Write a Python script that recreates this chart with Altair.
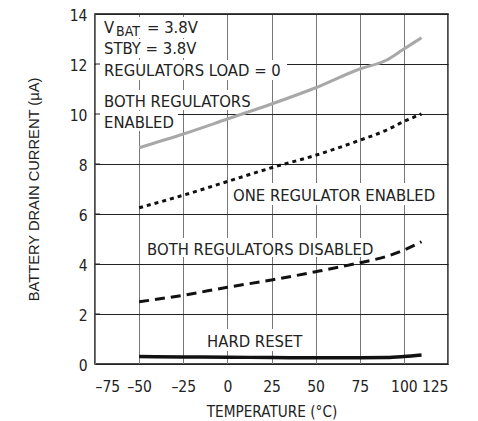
import altair as alt
import pandas as pd

# ---- data ----
temps = [-50, -25, 0, 25, 50, 75, 90, 100, 110]
both_enabled = [8.65, 9.2, 9.8, 10.4, 11.05, 11.8, 12.15, 12.6, 13.05]
one_enabled = [6.25, 6.75, 7.3, 7.85, 8.35, 8.95, 9.35, 9.7, 10.0]
both_disabled = [2.49, 2.75, 3.07, 3.36, 3.69, 4.05, 4.3, 4.56, 4.89]
hard_reset = [0.3, 0.28, 0.27, 0.26, 0.25, 0.25, 0.26, 0.3, 0.36]

x_ticks = [-75, -50, -25, 0, 25, 50, 75, 100, 125]
y_ticks = [0, 2, 4, 6, 8, 10, 12, 14]

# annotation labels: text, x (left), y (baseline)
label_text = ["V", "STBY = 3.8V", "REGULATORS LOAD = 0", "BOTH REGULATORS", "ENABLED",
              "ONE REGULATOR ENABLED", "BOTH REGULATORS DISABLED", "HARD RESET"]
label_x = [-69.9, -69.9, -69.9, -69.9, -69.9, 3.2, -45.5, -11.5]
label_y = [13.24, 12.4, 11.52, 10.28, 9.44, 6.52, 4.36, 0.68]

# white boxes behind the labels
box_x1 = [-74.4, -74.4, -74.4, -74.4, -74.4, 0.9, -47.8, -13.8]
box_x2 = [-18.3, -16.6, 33.8, 17.4, -28.0, 121.6, 87.6, 46.2]
box_y1 = [13.04, 12.24, 11.36, 10.16, 9.32, 6.36, 4.28, 0.52]
box_y2 = [13.88, 13.0, 12.16, 10.96, 10.12, 7.24, 5.04, 1.4]

FONT = "DejaVu Sans Condensed"
INK = "#222222"

df = pd.DataFrame({
    "temp": temps * 4,
    "current": both_enabled + one_enabled + both_disabled + hard_reset,
    "series": ["both_enabled"] * len(temps) + ["one_enabled"] * len(temps)
              + ["both_disabled"] * len(temps) + ["hard_reset"] * len(temps),
})
labels = pd.DataFrame({"text": label_text, "x": label_x, "y": label_y})
boxes = pd.DataFrame({"x1": box_x1, "x2": box_x2, "y1": box_y1, "y2": box_y2})
yt = pd.DataFrame({"y": y_ticks[1:-1]})

x_scale = alt.Scale(domain=[-75, 125], nice=False, zero=False)
y_scale = alt.Scale(domain=[0, 14], nice=False)

x_axis = alt.Axis(values=x_ticks, title="TEMPERATURE (°C)", grid=True, gridColor="#777777",
                  gridWidth=1, gridOpacity=1, ticks=False, domain=False,
                  labelFont=FONT, labelFontSize=15.5, labelColor=INK,
                  labelExpr="replace(datum.label, '−', '–')",
                  labelBaseline="alphabetic", labelPadding=27, labelOverlap=False,
                  titleFont=FONT, titleFontSize=15.2, titleFontWeight="normal",
                  titleColor=INK, titleBaseline="alphabetic", titleY=52)
y_axis = alt.Axis(values=y_ticks, title="BATTERY DRAIN CURRENT (µA)", grid=True,
                  gridColor=INK, gridWidth=1, gridOpacity=1, ticks=False, domain=False,
                  labelFont=FONT, labelFontSize=15.5, labelColor=INK, labelPadding=8,
                  labelOverlap=False, labelBaseline="alphabetic", labelOffset=6,
                  titleFont="Liberation Sans", titleFontSize=14.7, titleFontWeight="normal",
                  titleColor=INK, titleBaseline="alphabetic", titleX=-57)


def X(field):
    return alt.X(field, type="quantitative", scale=x_scale, axis=x_axis)


def Y(field):
    return alt.Y(field, type="quantitative", scale=y_scale, axis=y_axis)


rects = alt.Chart(boxes).mark_rect(color="white").encode(
    x=X("x1"), x2="x2", y=Y("y1"), y2="y2")

ticks = alt.Chart(yt).mark_rule(color=INK, strokeWidth=1).encode(
    y=Y("y"), x=alt.value(0), x2=alt.value(5))


def line(series, color, dash, width):
    mk = dict(color=color, strokeWidth=width, interpolate="monotone", strokeCap="butt")
    if dash:
        mk["strokeDash"] = dash
    return alt.Chart(df[df.series == series]).mark_line(**mk).encode(
        x=X("temp"), y=Y("current"))


l1 = line("both_enabled", "#a8a8a8", None, 3)
l2 = line("one_enabled", "#111111", [4, 4], 3)
l3 = line("both_disabled", "#111111", [10, 6], 3)
l4 = line("hard_reset", "#111111", None, 3.5)

texts = alt.Chart(labels).mark_text(align="left", baseline="alphabetic", font=FONT,
                                    fontSize=16.5, color=INK).encode(
    x=X("x"), y=Y("y"), text="text:N")

sub = alt.Chart(labels.iloc[[0]]).mark_text(align="left", baseline="alphabetic", font=FONT,
                                            fontSize=14, color=INK, dx=12, dy=3).encode(
    x=X("x"), y=Y("y"), text=alt.value("BAT"))
rest = alt.Chart(labels.iloc[[0]]).mark_text(align="left", baseline="alphabetic", font=FONT,
                                             fontSize=16.5, color=INK, dx=43).encode(
    x=X("x"), y=Y("y"), text=alt.value("= 3.8V"))

chart = alt.layer(rects, ticks, l1, l2, l3, l4, texts, sub, rest).properties(
    width=353, height=350,
    autosize=alt.AutoSizeParams(type="none"),
    padding={"left": 87, "top": 6, "right": 22, "bottom": 57},
).configure_view(stroke="#111111", strokeWidth=1.5)

chart.save("out.html", embed_options={"renderer": "svg", "actions": False})
